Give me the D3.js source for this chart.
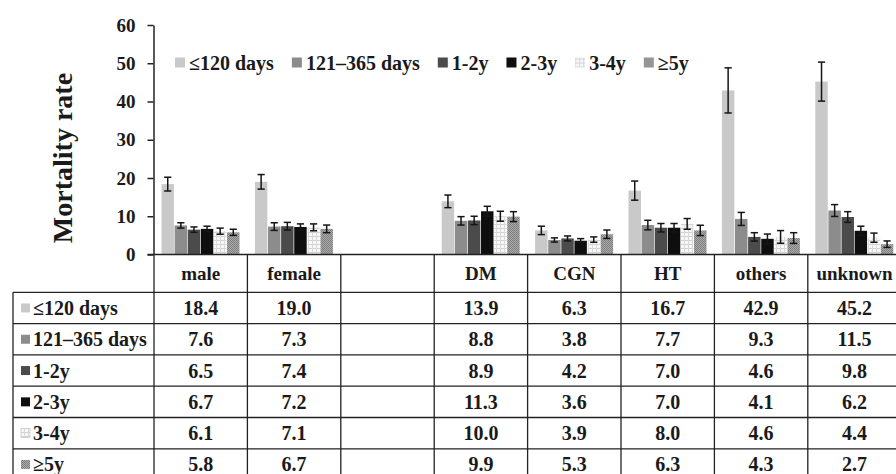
<!DOCTYPE html>
<html>
<head>
<meta charset="utf-8">
<script src="https://cdn.jsdelivr.net/npm/d3@7"></script>
<style>
  html, body { margin: 0; padding: 0; background: #fff; }
  svg { display: block; }
  text { font-family: "Liberation Serif", "Times New Roman", serif; font-weight: bold; fill: #1a1a1a; }
</style>
</head>
<body>
<svg id="chart" width="896" height="474"></svg>
<script>
// Categories along the x axis (the blank one is a spacer column between groups)
const categories = ["male", "female", "", "DM", "CGN", "HT", "others", "unknown"];
// Survival-period series
const series = ["≤120 days", "121–365 days", "1-2y", "2-3y", "3-4y", "≥5y"];

// Mortality rate per series, one value per category
const le120Days   = [18.4, 19.0, null, 13.9, 6.3, 16.7, 42.9, 45.2];
const d121to365   = [7.6, 7.3, null, 8.8, 3.8, 7.7, 9.3, 11.5];
const y1to2       = [6.5, 7.4, null, 8.9, 4.2, 7.0, 4.6, 9.8];
const y2to3       = [6.7, 7.2, null, 11.3, 3.6, 7.0, 4.1, 6.2];
const y3to4       = [6.1, 7.1, null, 10.0, 3.9, 8.0, 4.6, 4.4];
const ge5y        = [5.8, 6.7, null, 9.9, 5.3, 6.3, 4.3, 2.7];

// Error bar half-widths
const errLe120    = [1.8, 1.9, null, 1.65, 1.1, 2.5, 5.9, 5.1];
const err121to365 = [0.7, 1.0, null, 1.1, 0.55, 1.25, 1.7, 1.55];
const err1to2     = [0.7, 1.0, null, 1.1, 0.65, 1.1, 1.1, 1.4];
const err2to3     = [0.7, 0.8, null, 1.3, 0.55, 1.1, 1.25, 1.2];
const err3to4     = [0.8, 0.9, null, 1.3, 0.7, 1.4, 1.65, 1.2];
const errGe5      = [0.8, 1.0, null, 1.3, 1.1, 1.35, 1.4, 0.85];

const yTicks = [0, 10, 20, 30, 40, 50, 60];

const values = [le120Days, d121to365, y1to2, y2to3, y3to4, ge5y];
const errors = [errLe120, err121to365, err1to2, err2to3, err3to4, errGe5];

const svg = d3.select("#chart");
const defs = svg.append("defs");

// Textured fills for the last two series
const pGrid = defs.append("pattern").attr("id", "pat34")
  .attr("patternUnits", "userSpaceOnUse").attr("width", 4).attr("height", 4);
pGrid.append("rect").attr("width", 4).attr("height", 4).attr("fill", "#f7f7f7");
pGrid.append("rect").attr("width", 4).attr("height", 1).attr("fill", "#d2d2d2");
pGrid.append("rect").attr("width", 1).attr("height", 4).attr("fill", "#dadada");

const pDots = defs.append("pattern").attr("id", "pat5")
  .attr("patternUnits", "userSpaceOnUse").attr("width", 2).attr("height", 2);
pDots.append("rect").attr("width", 2).attr("height", 2).attr("fill", "#ababab");
pDots.append("rect").attr("width", 1).attr("height", 1).attr("fill", "#7c7c7c");
pDots.append("rect").attr("x", 1).attr("y", 1).attr("width", 1).attr("height", 1).attr("fill", "#808080");

const fills = d3.scaleOrdinal().domain(series)
  .range(["#c9c9c9", "#8c8c8c", "#4b4b4b", "#0e0e0e", "url(#pat34)", "url(#pat5)"]);

// Scales
const colW = 93.4;
const x0 = d3.scaleBand().domain(categories).range([154, 154 + colW * categories.length]);
const x1 = d3.scaleBand().domain(series).range([7.5, 85.5]).paddingInner(0.05);
const y = d3.scaleLinear().domain([0, 60]).range([254.5, 25]);

// Y axis
const yAxis = d3.axisLeft(y).tickValues(yTicks).tickSize(6).tickPadding(12).tickSizeOuter(0);
const gy = svg.append("g").attr("transform", "translate(153.5,0)").call(yAxis);
gy.select(".domain").attr("stroke", "#222").attr("stroke-width", 1.5);
gy.selectAll(".tick line").attr("stroke", "#222").attr("stroke-width", 1.5);
gy.selectAll(".tick text").attr("font-size", 19).attr("fill", "#1a1a1a")
  .attr("font-family", "Liberation Serif").attr("font-weight", "bold");

svg.append("text")
  .attr("transform", "translate(72,158) rotate(-90)")
  .attr("text-anchor", "middle")
  .attr("font-size", 28)
  .text("Mortality rate");

// Bars and error bars
const records = [];
categories.forEach((c, ci) => {
  series.forEach((s, si) => {
    const v = values[si][ci];
    if (v != null) records.push({ c, s, v, e: errors[si][ci] });
  });
});

const gBars = svg.append("g");
gBars.selectAll("rect").data(records).join("rect")
  .attr("x", d => x0(d.c) + x1(d.s))
  .attr("width", x1.bandwidth())
  .attr("y", d => y(d.v))
  .attr("height", d => y(0) - y(d.v))
  .attr("fill", d => fills(d.s));

const gErr = svg.append("g").attr("stroke", "#151515").attr("stroke-width", 1.5);
const cap = 3.6;
records.forEach(d => {
  const cx = x0(d.c) + x1(d.s) + x1.bandwidth() / 2;
  const y1v = y(d.v + d.e), y2v = y(d.v - d.e);
  gErr.append("line").attr("x1", cx).attr("x2", cx).attr("y1", y1v).attr("y2", y2v);
  gErr.append("line").attr("x1", cx - cap).attr("x2", cx + cap).attr("y1", y1v).attr("y2", y1v);
  gErr.append("line").attr("x1", cx - cap).attr("x2", cx + cap).attr("y1", y2v).attr("y2", y2v);
});

// Baseline across the whole chart / table top
svg.append("line").attr("x1", 147.5).attr("x2", 896).attr("y1", y(0)).attr("y2", y(0))
  .attr("stroke", "#222").attr("stroke-width", 1.5);

// Legend across the top of the plot
const legend = svg.append("g").attr("transform", "translate(175,62.5)");
let lx = 0;
series.forEach(s => {
  const g = legend.append("g").attr("transform", `translate(${lx},0)`);
  g.append("rect").attr("x", 0).attr("y", -5).attr("width", 10).attr("height", 10)
    .attr("fill", fills(s));
  const t = g.append("text").attr("x", 14).attr("dy", "0.35em").attr("font-size", 20).text(s);
  lx += 14 + t.node().getComputedTextLength() + 18;
});

// Data table beneath the axis
const headerTop = y(0);
const headerBottom = 292.3;
const rowH = 31.3;
const tableLeft = 13;
const tableBottom = headerBottom + rowH * series.length;
const tbl = svg.append("g");
const lineStyle = sel => sel.attr("stroke", "#222").attr("stroke-width", 1.3);

// Column dividers
const colEdges = categories.map(c => x0(c)).concat([x0.range()[1]]);
colEdges.forEach(xv => {
  tbl.append("line").attr("x1", xv).attr("x2", xv).attr("y1", headerTop).attr("y2", tableBottom).call(lineStyle);
});
tbl.append("line").attr("x1", tableLeft).attr("x2", tableLeft).attr("y1", headerBottom).attr("y2", tableBottom).call(lineStyle);

// Row dividers
d3.range(series.length + 1).forEach(i => {
  const yv = headerBottom + i * rowH;
  tbl.append("line").attr("x1", tableLeft).attr("x2", 896).attr("y1", yv).attr("y2", yv).call(lineStyle);
});

// Header labels
categories.forEach(c => {
  tbl.append("text")
    .attr("x", x0(c) + x0.bandwidth() / 2)
    .attr("y", (headerTop + headerBottom) / 2)
    .attr("dy", "0.35em").attr("text-anchor", "middle").attr("font-size", 19)
    .text(c);
});

// Row keys and values
const fmt = d3.format(".1f");
series.forEach((s, si) => {
  const cy = headerBottom + si * rowH + rowH / 2;
  tbl.append("rect").attr("x", 21).attr("y", cy - 4.5).attr("width", 9).attr("height", 9)
    .attr("fill", fills(s)).attr("stroke", s === "3-4y" ? "#bbb" : "none").attr("stroke-width", 0.6);
  tbl.append("text").attr("x", 33).attr("y", cy).attr("dy", "0.35em").attr("font-size", 20).text(s);
  categories.forEach((c, ci) => {
    const v = values[si][ci];
    if (v == null) return;
    tbl.append("text")
      .attr("x", x0(c) + x0.bandwidth() / 2)
      .attr("y", cy).attr("dy", "0.35em").attr("text-anchor", "middle").attr("font-size", 20)
      .text(fmt(v));
  });
});
</script>
</body>
</html>
